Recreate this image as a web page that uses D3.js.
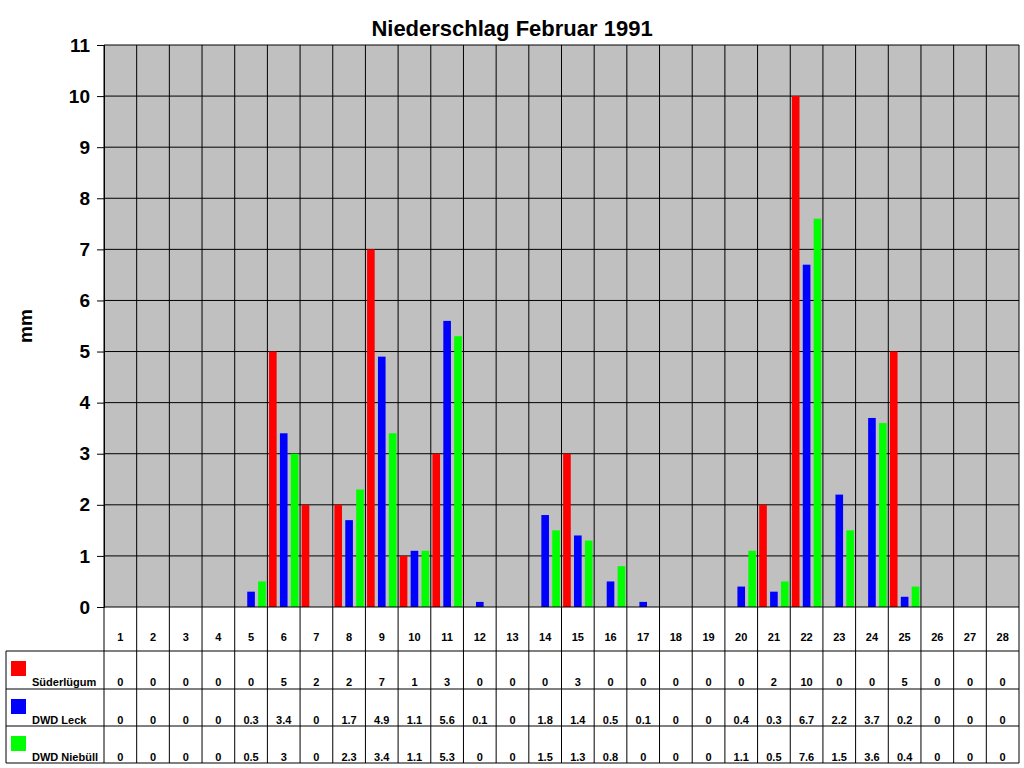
<!DOCTYPE html>
<html><head><meta charset="utf-8">
<script src="https://cdn.jsdelivr.net/npm/d3@7"></script>
<style>body{margin:0;background:#fff}text{font-family:Arial,"Liberation Sans",sans-serif;font-weight:bold}</style>
</head><body><svg id="c" width="1024" height="768"></svg>
<script>
const days = d3.range(1,29).map(String);
const seriesNames = ["Süderlügum","DWD Leck","DWD Niebüll"];
const colors = ["#ff0000","#0000ff","#00ff00"];
const suederluegum = [0,0,0,0,0,5,2,2,7,1,3,0,0,0,3,0,0,0,0,0,2,10,0,0,5,0,0,0];
const leck = [0,0,0,0,0.3,3.4,0,1.7,4.9,1.1,5.6,0.1,0,1.8,1.4,0.5,0.1,0,0,0.4,0.3,6.7,2.2,3.7,0.2,0,0,0];
const niebuell = [0,0,0,0,0.5,3,0,2.3,3.4,1.1,5.3,0,0,1.5,1.3,0.8,0,0,0,1.1,0.5,7.6,1.5,3.6,0.4,0,0,0];
const yTicks = d3.range(0,12);
const series = [suederluegum, leck, niebuell];

const svg = d3.select("#c");
const L=104,R=1019,T=45,B=607;
const x = d3.scaleBand().domain(days).range([L,R]);
const y = d3.scaleLinear().domain([0,11]).range([B,T]);
const xi = d3.scaleBand().domain([0,1,2]).range([0,x.bandwidth()]).paddingInner(0.3).paddingOuter(0.15);

svg.append("rect").attr("x",L).attr("y",T).attr("width",R-L).attr("height",B-T).attr("fill","#c0c0c0");
svg.append("g").selectAll("line").data(yTicks.slice(1)).join("line")
 .attr("x1",L).attr("x2",R).attr("y1",d=>y(d)).attr("y2",d=>y(d)).attr("stroke","#000");
svg.append("g").selectAll("line").data(days).join("line")
 .attr("x1",d=>x(d)).attr("x2",d=>x(d)).attr("y1",T).attr("y2",B).attr("stroke","#000");
svg.append("line").attr("x1",R).attr("x2",R).attr("y1",T).attr("y2",B).attr("stroke","#000");

series.forEach((s,si)=>{
 svg.append("g").selectAll("rect").data(s.map((v,i)=>({v,d:days[i]})).filter(o=>o.v>0)).join("rect")
  .attr("x",o=>x(o.d)+xi(si)).attr("width",xi.bandwidth())
  .attr("y",o=>y(o.v)).attr("height",o=>B-y(o.v)).attr("fill",colors[si]);
});

const ya = d3.axisLeft(y).tickValues(yTicks).tickSize(7).tickFormat(d3.format("d"));
const g = svg.append("g").attr("transform",`translate(${L},0)`).call(ya);
g.select(".domain").attr("stroke","#000");
g.selectAll("text").attr("font-size",19).attr("font-weight","bold").attr("font-family","Arial,Liberation Sans").attr("dx",-4);

svg.append("text").attr("x",512).attr("y",36).attr("text-anchor","middle").attr("font-size",22).text("Niederschlag Februar 1991");
svg.append("text").attr("transform","translate(32,326) rotate(-90)").attr("text-anchor","middle").attr("font-size",19).text("mm");

// table
const rowY=[607,651,689,726,763];
const tl=6;
svg.append("g").selectAll("line").data(days).join("line")
 .attr("x1",d=>x(d)).attr("x2",d=>x(d)).attr("y1",B).attr("y2",763).attr("stroke","#000");
svg.append("line").attr("x1",R).attr("x2",R).attr("y1",B).attr("y2",763).attr("stroke","#000");
svg.append("line").attr("x1",L).attr("x2",R).attr("y1",B).attr("y2",B).attr("stroke","#000");
rowY.slice(1).forEach(yy=>svg.append("line").attr("x1",tl).attr("x2",R).attr("y1",yy).attr("y2",yy).attr("stroke","#000"));
svg.append("line").attr("x1",tl).attr("x2",tl).attr("y1",651).attr("y2",763).attr("stroke","#000");
svg.append("g").selectAll("text").data(days).join("text")
 .attr("x",d=>x(d)+x.bandwidth()/2).attr("y",641).attr("text-anchor","middle").attr("font-size",11).text(d=>d);
series.forEach((s,si)=>{
 const ty=rowY[si+1]+35;
 svg.append("rect").attr("x",11).attr("y",ty-25).attr("width",15).attr("height",15).attr("fill",colors[si]);
 svg.append("text").attr("x",32).attr("y",ty).attr("font-size",11).text(seriesNames[si]);
 svg.append("g").selectAll("text").data(s).join("text")
  .attr("x",(v,i)=>x(days[i])+x.bandwidth()/2).attr("y",ty).attr("text-anchor","middle").attr("font-size",11).text(v=>v);
});
</script></body></html>
